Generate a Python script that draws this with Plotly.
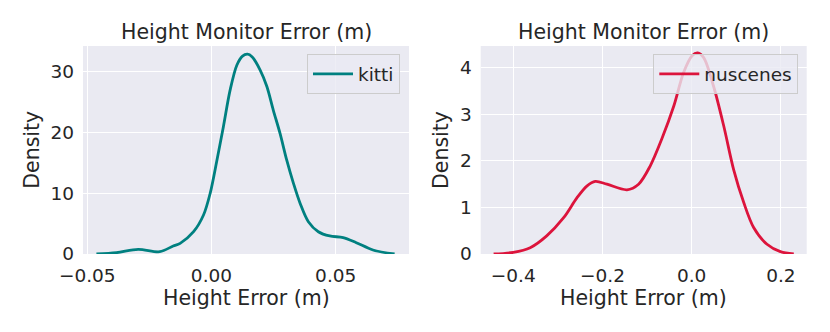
import plotly.graph_objects as go
from plotly.subplots import make_subplots

# KDE curves, values
kitti_x = [-0.0463, -0.0382, -0.0295, -0.0208, -0.0154, -0.0126, -0.0072, -0.0032,
           -0.0005, 0.0022, 0.0048, 0.0075, 0.0102, 0.0125, 0.0145, 0.0163, 0.0196,
           0.0223, 0.0249, 0.0276, 0.0303, 0.0330, 0.0357, 0.0390, 0.0430, 0.0476,
           0.0530, 0.0583, 0.0650, 0.0737]
kitti_y = [0.0, 0.22, 0.77, 0.38, 1.31, 1.75, 3.66, 6.4,
           10.0, 15.4, 20.9, 26.9, 31.0, 32.5, 32.8, 32.4, 30.2,
           27.5, 23.6, 19.8, 15.4, 11.6, 8.3, 5.3, 3.66, 2.96,
           2.7, 1.86, 0.66, 0.0]

nusc_x = [-0.444, -0.400, -0.362, -0.325, -0.287, -0.257, -0.235, -0.216, -0.190,
          -0.145, -0.119, -0.093, -0.067, -0.040, -0.018, 0.001, 0.0135, 0.027,
          0.049, 0.072, 0.094, 0.117, 0.139, 0.169, 0.199, 0.229]
nusc_y = [0.0, 0.036, 0.136, 0.39, 0.78, 1.21, 1.46, 1.56, 1.50,
          1.38, 1.50, 1.89, 2.47, 3.18, 3.90, 4.26, 4.32, 4.22,
          3.61, 2.75, 1.82, 1.10, 0.57, 0.21, 0.05, 0.0]

kitti_ticks = [-0.05, 0.0, 0.05]
kitti_ticktext = ["\u22120.05", "0.00", "0.05"]
nusc_ticks = [-0.4, -0.2, 0.0, 0.2]
nusc_ticktext = ["\u22120.4", "\u22120.2", "0.0", "0.2"]

W, H = 830, 332
OFF = 8  # page body margin of the html page
BG = "#EAEAF2"
INK = "#262626"
FONT = "DejaVu Sans"


def fx(x):
    return (x - OFF) / W


def fy(y):
    return 1 - (y - OFF) / H


fig = make_subplots(rows=1, cols=2)
fig.add_trace(go.Scatter(x=kitti_x, y=kitti_y, mode="lines", name="kitti",
                         line=dict(color="#008080", width=2.8, shape="spline", smoothing=0.9),
                         legend="legend"), row=1, col=1)
fig.add_trace(go.Scatter(x=nusc_x, y=nusc_y, mode="lines", name="nuscenes",
                         line=dict(color="#DC143C", width=2.8, shape="spline", smoothing=0.9),
                         legend="legend2"), row=1, col=2)

axis_common = dict(showgrid=True, gridcolor="white", gridwidth=1.3, zeroline=False,
                   showline=False, ticks="", automargin=False, ticklabelstandoff=8,
                   tickfont=dict(size=18.5, color=INK, family=FONT))

fig.update_xaxes(domain=[fx(83), fx(409)], range=[-0.0517, 0.0795],
                 tickvals=kitti_ticks, ticktext=kitti_ticktext, row=1, col=1, **axis_common)
fig.update_xaxes(domain=[fx(480.7), fx(806.7)], range=[-0.473, 0.258],
                 tickvals=nusc_ticks, ticktext=nusc_ticktext, row=1, col=2, **axis_common)
fig.update_yaxes(domain=[fy(254), fy(46)], range=[0, 34.15], tickvals=[0, 10, 20, 30],
                 row=1, col=1, **axis_common)
fig.update_yaxes(domain=[fy(254), fy(46)], range=[0, 4.47], tickvals=[0, 1, 2, 3, 4],
                 row=1, col=2, **axis_common)

legend_style = dict(bgcolor="rgba(234,234,242,0.8)", bordercolor="#CCCCCC", borderwidth=1,
                    font=dict(size=18.5, color=INK, family=FONT), itemwidth=40,
                    xanchor="right", yanchor="top")


def label(text, x, y, angle=0):
    return dict(text=text, x=fx(x), y=fy(y), xref="paper", yref="paper", showarrow=False,
                xanchor="center", yanchor="middle", textangle=angle,
                font=dict(size=20.5, color=INK, family=FONT))


fig.update_layout(
    width=W, height=H,
    margin=dict(l=0, r=0, t=0, b=0),
    paper_bgcolor="white", plot_bgcolor=BG,
    font=dict(family=FONT, color=INK),
    showlegend=True,
    legend=dict(x=fx(400), y=fy(54.3), **legend_style),
    legend2=dict(x=fx(798.3), y=fy(54.3), **legend_style),
    annotations=[
        label("Height Monitor Error (m)", 246, 31.7),
        label("Height Monitor Error (m)", 643.7, 31.7),
        label("Height Error (m)", 246, 297.7),
        label("Height Error (m)", 643.7, 297.7),
        label("Density", 31.7, 150, -90),
        label("Density", 441, 150, -90),
    ],
)

fig.write_html("out.html")
